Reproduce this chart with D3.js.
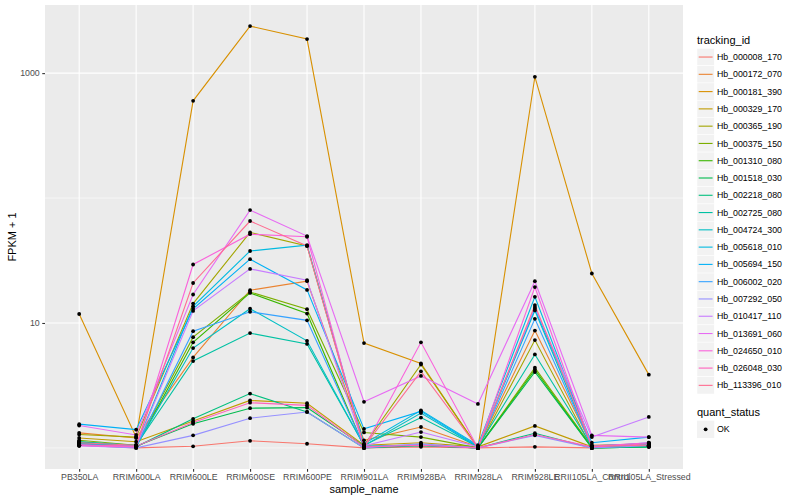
<!DOCTYPE html>
<html>
<head>
<meta charset="utf-8">
<script src="https://cdn.jsdelivr.net/npm/d3@7"></script>
<style>
  body { margin: 0; background: #ffffff; }
  text { font-family: "Liberation Sans", Arial, Helvetica, sans-serif; }
</style>
</head>
<body>
<div id="container"></div>
<script>
const w = 800;
const h = 500;

// panel box
const panelLeft = 45, panelRight = 683, panelTop = 5, panelBottom = 469;

// categories
let samples = ["PB350LA", "RRIM600LA", "RRIM600LE", "RRIM600SE", "RRIM600PE", "RRIM901LA",
  "RRIM928BA", "RRIM928LA", "RRIM928LE", "RRII105LA_Control", "RRII105LA_Stressed"];

let trackingIds = ["Hb_000008_170", "Hb_000172_070", "Hb_000181_390", "Hb_000329_170", "Hb_000365_190",
  "Hb_000375_150", "Hb_001310_080", "Hb_001518_030", "Hb_002218_080", "Hb_002725_080",
  "Hb_004724_300", "Hb_005618_010", "Hb_005694_150", "Hb_006002_020", "Hb_007292_050",
  "Hb_010417_110", "Hb_013691_060", "Hb_024650_010", "Hb_026048_030", "Hb_113396_010"];

// FPKM + 1, one array per tracking_id, in sample order
let hb_000008_170 = [1.05, 1.0, 1.03, 1.14, 1.08, 1.0, 1.02, 1.0, 1.02, 1.0, 1.03];
let hb_000172_070 = [1.32, 1.2, 5.3, 18.3, 21.6, 1.15, 1.47, 1.02, 8.7, 1.05, 1.08];
let hb_000181_390 = [11.8, 1.22, 600, 2380, 1875, 6.9, 4.75, 1.0, 935, 24.9, 3.86];
let hb_000329_170 = [1.2, 1.12, 1.64, 2.4, 2.28, 1.05, 1.1, 1.02, 1.5, 1.02, 1.05];
let hb_000365_190 = [1.28, 1.22, 14.3, 53.1, 41.4, 1.05, 4.65, 1.0, 7.3, 1.0, 1.04];
let hb_000375_150 = [1.15, 1.05, 7.7, 17.7, 12.9, 1.33, 1.22, 1.0, 4.39, 1.02, 1.03];
let hb_001310_080 = [1.1, 1.02, 7.0, 17.4, 11.9, 1.02, 1.05, 1.0, 4.23, 1.0, 1.02];
let hb_001518_030 = [1.12, 1.03, 1.56, 2.08, 2.1, 1.03, 1.05, 1.0, 4.05, 1.0, 1.02];
let hb_002218_080 = [1.08, 1.02, 1.71, 2.72, 1.94, 1.0, 1.04, 1.0, 1.31, 1.0, 1.02];
let hb_002725_080 = [1.12, 1.05, 4.96, 8.3, 6.8, 1.05, 1.75, 1.02, 5.6, 1.03, 1.05];
let hb_004724_300 = [1.1, 1.03, 6.3, 13.0, 7.2, 1.04, 1.9, 1.02, 12.6, 1.02, 1.06];
let hb_005618_010 = [1.08, 1.04, 13.6, 37.7, 42, 1.08, 2.0, 1.05, 16.2, 1.04, 1.08];
let hb_005694_150 = [1.55, 1.4, 13.0, 32.4, 18.4, 1.42, 1.96, 1.03, 13.0, 1.1, 1.22];
let hb_006002_020 = [1.06, 1.02, 8.6, 12.3, 10.5, 1.03, 1.06, 1.0, 10.8, 1.02, 1.1];
let hb_007292_050 = [1.04, 1.0, 1.26, 1.73, 1.94, 1.0, 1.08, 1.0, 1.26, 1.0, 1.04];
let hb_010417_110 = [1.05, 1.03, 12.5, 27.1, 22.0, 1.04, 1.34, 1.02, 13.4, 1.22, 1.77];
let hb_013691_060 = [1.51, 1.27, 16.9, 80.1, 49.6, 2.34, 3.77, 2.25, 21.6, 1.26, 1.22];
let hb_024650_010 = [1.04, 1.02, 29.4, 51.4, 49, 1.0, 7.0, 1.0, 19.4, 1.03, 1.1];
let hb_026048_030 = [1.06, 1.03, 1.6, 2.3, 2.19, 1.02, 1.05, 1.0, 1.28, 1.02, 1.08];
let hb_113396_010 = [1.1, 1.05, 20.9, 65.5, 41.4, 1.02, 4.1, 1.0, 13.9, 1.03, 1.05];

let yMajor = [10, 1000];
let yMinor = [1, 100];

let seriesValues = [hb_000008_170, hb_000172_070, hb_000181_390, hb_000329_170, hb_000365_190,
  hb_000375_150, hb_001310_080, hb_001518_030, hb_002218_080, hb_002725_080,
  hb_004724_300, hb_005618_010, hb_005694_150, hb_006002_020, hb_007292_050,
  hb_010417_110, hb_013691_060, hb_024650_010, hb_026048_030, hb_113396_010];

// ggplot hue palette for 20 levels
let color = d3.scaleOrdinal()
  .domain(trackingIds)
  .range(["#F8766D", "#EA8331", "#D89000", "#C09B00", "#A3A500", "#7CAE00", "#39B600", "#00BB4E",
    "#00BF7D", "#00C1A3", "#00BFC4", "#00BAE0", "#00B0F6", "#35A2FF", "#9590FF", "#C77CFF",
    "#E76BF3", "#FA62DB", "#FF62BC", "#FF6C91"]);

let series = trackingIds.map(function(id, i){
  return {
    id: id,
    points: samples.map(function(s, j){ return { sample: s, value: seriesValues[i][j] }; })
  };
});

// scales, with ggplot style 5% expansion on the log axis
let allValues = d3.merge(seriesValues);
let logExt = d3.extent(allValues, function(v){ return Math.log10(v); });
let pad = (logExt[1] - logExt[0]) * 0.05;
let yScale = d3.scaleLog()
  .domain([Math.pow(10, logExt[0] - pad), Math.pow(10, logExt[1] + pad)])
  .range([panelBottom, panelTop]);
let xScale = d3.scalePoint().domain(samples).range([panelLeft, panelRight]).padding(0.6);

let viz = d3.select("#container").append("svg").attr("width", w).attr("height", h);

// panel
viz.append("rect")
  .attr("x", panelLeft).attr("y", panelTop)
  .attr("width", panelRight - panelLeft).attr("height", panelBottom - panelTop)
  .attr("fill", "#EBEBEB");

viz.append("g").selectAll("line").data(yMinor).enter().append("line")
  .attr("x1", panelLeft).attr("x2", panelRight)
  .attr("y1", function(d){ return yScale(d); })
  .attr("y2", function(d){ return yScale(d); })
  .attr("stroke", "#ffffff").attr("stroke-width", 0.55);

viz.append("g").selectAll("line").data(yMajor).enter().append("line")
  .attr("x1", panelLeft).attr("x2", panelRight)
  .attr("y1", function(d){ return yScale(d); })
  .attr("y2", function(d){ return yScale(d); })
  .attr("stroke", "#ffffff").attr("stroke-width", 1.1);

viz.append("g").selectAll("line").data(samples).enter().append("line")
  .attr("x1", function(d){ return xScale(d); })
  .attr("x2", function(d){ return xScale(d); })
  .attr("y1", panelTop).attr("y2", panelBottom)
  .attr("stroke", "#ffffff").attr("stroke-width", 1.1);

// lines
let line = d3.line()
  .x(function(d){ return xScale(d.sample); })
  .y(function(d){ return yScale(d.value); });

viz.append("g").selectAll("path").data(series).enter().append("path")
  .attr("d", function(d){ return line(d.points); })
  .attr("fill", "none")
  .attr("stroke", function(d){ return color(d.id); })
  .attr("stroke-width", 1.1);

// points
let pointGroup = viz.append("g");
series.forEach(function(s, i){
  pointGroup.append("g").selectAll("circle").data(s.points).enter().append("circle")
    .attr("cx", function(d){ return xScale(d.sample); })
    .attr("cy", function(d){ return yScale(d.value); })
    .attr("r", 1.9)
    .attr("fill", "#000000");
});

// axes
let xAxis = d3.axisBottom(xScale).tickSize(2.75).tickPadding(2.5);
let xAxisGroup = viz.append("g").attr("transform", "translate(0," + panelBottom + ")").call(xAxis);

let yAxis = d3.axisLeft(yScale).tickValues(yMajor).tickFormat(d3.format("d")).tickSize(2.75).tickPadding(2.5);
let yAxisGroup = viz.append("g").attr("transform", "translate(" + panelLeft + ",0)").call(yAxis);

[xAxisGroup, yAxisGroup].forEach(function(g){
  g.select(".domain").remove();
  g.selectAll(".tick line").attr("stroke", "#333333").attr("stroke-width", 1.1);
  g.selectAll(".tick text")
    .attr("fill", "#4D4D4D")
    .style("font-size", "8.8px")
    .style("font-family", "'Liberation Sans', Arial, sans-serif");
});

// axis titles
viz.append("text")
  .attr("x", (panelLeft + panelRight) / 2).attr("y", 493)
  .attr("text-anchor", "middle")
  .style("font-size", "11px")
  .text("sample_name");

viz.append("text")
  .attr("transform", "translate(16," + ((panelTop + panelBottom) / 2) + ") rotate(-90)")
  .attr("text-anchor", "middle")
  .style("font-size", "11px")
  .text("FPKM + 1");

// legend: tracking_id
let keySize = 17.28;
let legendX = 697;
let legend = viz.append("g");

legend.append("text")
  .attr("x", legendX).attr("y", 44)
  .style("font-size", "11px")
  .text("tracking_id");

let keys = legend.selectAll(".key").data(trackingIds).enter().append("g")
  .attr("transform", function(d, i){ return "translate(" + legendX + "," + (48.4 + i * keySize) + ")"; });

keys.append("rect")
  .attr("width", keySize).attr("height", keySize)
  .attr("fill", "#F2F2F2").attr("stroke", "#ffffff").attr("stroke-width", 0.5);

keys.append("line")
  .attr("x1", 1.7).attr("x2", keySize - 1.7)
  .attr("y1", keySize / 2).attr("y2", keySize / 2)
  .attr("stroke", function(d){ return color(d); })
  .attr("stroke-width", 1.1);

keys.append("text")
  .attr("x", keySize + 2.6).attr("y", keySize / 2 + 3.1)
  .style("font-size", "8.8px")
  .text(function(d){ return d; });

// legend: quant_status
legend.append("text")
  .attr("x", legendX).attr("y", 416)
  .style("font-size", "11px")
  .text("quant_status");

let okKey = legend.append("g").attr("transform", "translate(" + legendX + ",420.7)");
okKey.append("rect")
  .attr("width", keySize).attr("height", keySize)
  .attr("fill", "#F2F2F2");
okKey.append("circle")
  .attr("cx", keySize / 2).attr("cy", keySize / 2).attr("r", 1.9)
  .attr("fill", "#000000");
okKey.append("text")
  .attr("x", keySize + 2.6).attr("y", keySize / 2 + 3.1)
  .style("font-size", "8.8px")
  .text("OK");
</script>
</body>
</html>
